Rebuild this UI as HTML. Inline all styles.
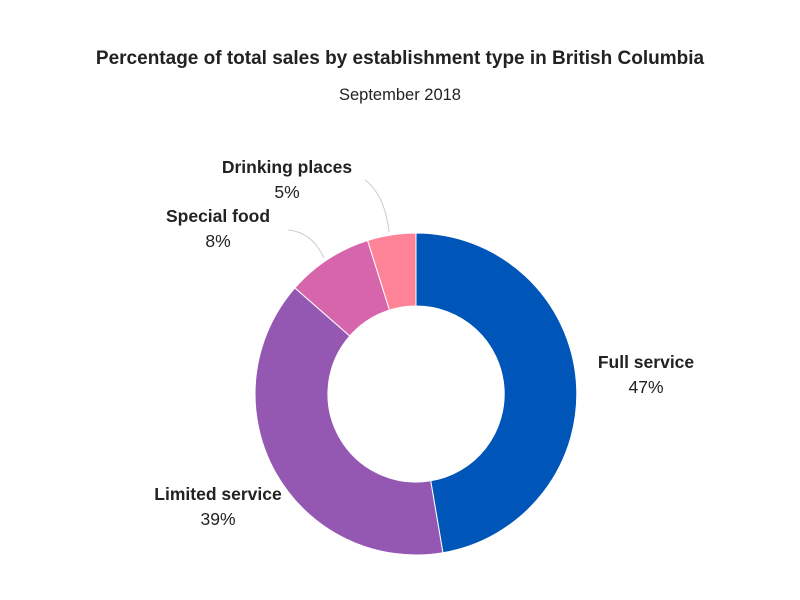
<!DOCTYPE html>
<html><head><meta charset="utf-8"><style>
html,body{margin:0;padding:0;background:#fff;}
</style></head><body>
<svg width="800" height="600" xmlns="http://www.w3.org/2000/svg" style="display:block;font-family:'Liberation Sans',sans-serif">
<rect width="800" height="600" fill="#fff"/>
<text x="400" y="64" text-anchor="middle" font-size="19" font-weight="bold" fill="#222">Percentage of total sales by establishment type in British Columbia</text>
<text x="400" y="100" text-anchor="middle" font-size="16.5" fill="#222">September 2018</text>
<g stroke="#fff" stroke-width="1">
<path d="M416 233 A161 161 0 0 1 442.9 552.7 L430.7 480.8 A88 88 0 0 0 416 306 Z" fill="#0055b8"/>
<path d="M442.9 552.7 A161 161 0 0 1 294.9 287.9 L349.8 336 A88 88 0 0 0 430.7 480.8 Z" fill="#9558b2"/>
<path d="M294.9 287.9 A161 161 0 0 1 367.6 240.5 L389.5 310.1 A88 88 0 0 0 349.8 336 Z" fill="#d765ab"/>
<path d="M367.6 240.5 A161 161 0 0 1 416 233 L416 306 A88 88 0 0 0 389.5 310.1 Z" fill="#ff8397"/>
</g>
<path d="M365 180 Q385 195 389 232" fill="none" stroke="#ccc" stroke-width="1"/>
<path d="M288 230 Q312 232 324 258" fill="none" stroke="#ccc" stroke-width="1"/>
<g font-size="17.5" fill="#222" text-anchor="middle">
<text x="287" y="173" font-weight="bold">Drinking places</text>
<text x="287" y="198">5%</text>
<text x="218" y="222" font-weight="bold">Special food</text>
<text x="218" y="247">8%</text>
<text x="646" y="368" font-weight="bold">Full service</text>
<text x="646" y="393">47%</text>
<text x="218" y="500" font-weight="bold">Limited service</text>
<text x="218" y="525">39%</text>
</g>
</svg>
</body></html>
